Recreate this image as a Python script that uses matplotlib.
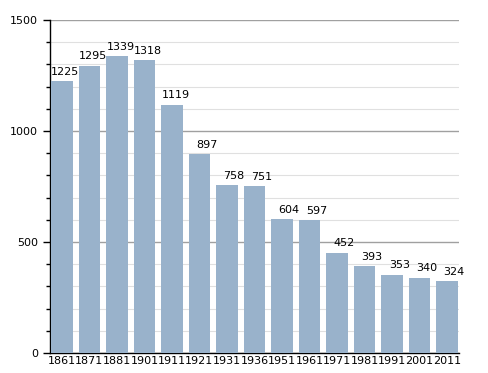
import matplotlib.pyplot as plt
from matplotlib.ticker import MultipleLocator

years = ['1861', '1871', '1881', '1901', '1911', '1921', '1931', '1936',
         '1951', '1961', '1971', '1981', '1991', '2001', '2011']
population = [1225, 1295, 1339, 1318, 1119, 897, 758, 751,
              604, 597, 452, 393, 353, 340, 324]

bar_w = 0.78

fig = plt.figure(figsize=(4.88, 3.73), dpi=100)
ax = fig.add_axes([50 / 488, 20 / 373, 409 / 488, 333 / 373])

x = range(len(years))
ax.bar(x, population, width=bar_w, color='#99b2cb', zorder=3)

# value labels sit right-aligned just past each bar's right edge
for i, v in enumerate(population):
    ax.annotate(str(v), (i + bar_w / 2, v), xytext=(5, 3),
                textcoords='offset points', ha='right', va='bottom',
                fontsize=8, zorder=4, annotation_clip=False)

ax.set_xlim(-0.43, len(years) - 0.57)
ax.set_ylim(0, 1500)
ax.set_xticks(list(x))
ax.set_xticklabels(years, fontsize=8)
ax.tick_params(axis='x', length=0, pad=2)

ax.yaxis.set_major_locator(MultipleLocator(500))
ax.yaxis.set_minor_locator(MultipleLocator(100))
ax.tick_params(axis='y', which='major', length=5, labelsize=8, width=1)
ax.tick_params(axis='y', which='minor', length=3, width=1)
ax.grid(axis='y', which='major', color='#a0a0a0', linewidth=1, zorder=1)
ax.grid(axis='y', which='minor', color='#e0e0e0', linewidth=0.8, zorder=1)

for s in ['top', 'right']:
    ax.spines[s].set_visible(False)
ax.spines['left'].set_linewidth(1)
ax.spines['bottom'].set_linewidth(1)

fig.savefig('out.png', dpi=100)
